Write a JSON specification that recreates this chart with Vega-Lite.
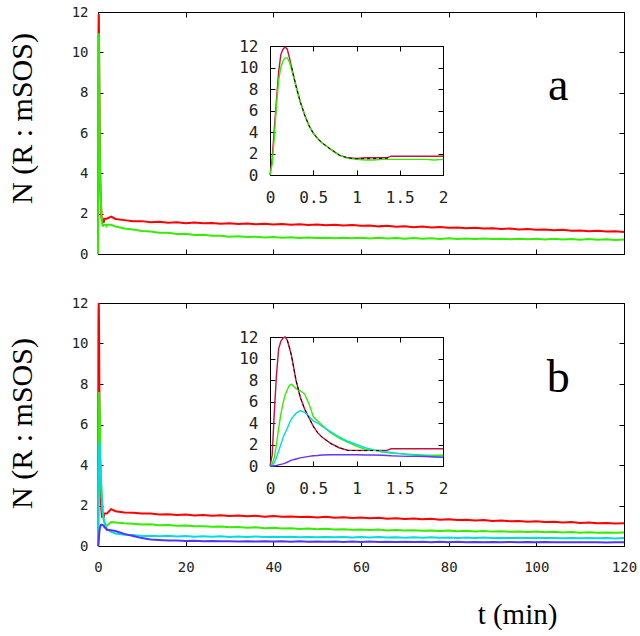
{
"$schema":"https://vega.github.io/schema/vega-lite/v6.json",
"background":"white",
"padding":{"left":6,"top":4,"right":5,"bottom":5},
"config":{"view":{"stroke":"black","strokeWidth":1},"axis":{"labelFont":"DejaVu Sans Mono","labelFontSize":14,"labelColor":"#222","tickColor":"black","domainColor":"black","grid":false,"labelFlush":false,"labelOverlap":false}},
"datasets":{
"A":[
{"t":0,"s":"r","n":0},{"t":0.025,"s":"r","n":1.5},{"t":0.05,"s":"r","n":4.3},{"t":0.075,"s":"r","n":7},{"t":0.1,"s":"r","n":9.6},{"t":0.125,"s":"r","n":11.2},{"t":0.15,"s":"r","n":11.7},{"t":0.175,"s":"r","n":11.9},{"t":0.2,"s":"r","n":11.7},{"t":0.225,"s":"r","n":10.9},{"t":0.25,"s":"r","n":10},{"t":0.3,"s":"r","n":8.3},{"t":0.35,"s":"r","n":6.8},{"t":0.4,"s":"r","n":5.6},{"t":0.45,"s":"r","n":4.6},{"t":0.5,"s":"r","n":3.9},{"t":0.55,"s":"r","n":3.4},{"t":0.6,"s":"r","n":3},{"t":0.7,"s":"r","n":2.4},{"t":0.8,"s":"r","n":1.85},{"t":0.9,"s":"r","n":1.6},{"t":1,"s":"r","n":1.55},{"t":1.1,"s":"r","n":1.6},{"t":1.2,"s":"r","n":1.6},{"t":1.3,"s":"r","n":1.6},{"t":1.35,"s":"r","n":1.6},{"t":1.4,"s":"r","n":1.75},{"t":1.5,"s":"r","n":1.75},{"t":1.6,"s":"r","n":1.75},{"t":1.7,"s":"r","n":1.75},{"t":1.8,"s":"r","n":1.75},{"t":1.9,"s":"r","n":1.75},{"t":2,"s":"r","n":1.75},
{"t":3,"s":"r","n":1.85},{"t":4,"s":"r","n":1.74},{"t":6,"s":"r","n":1.68},{"t":8,"s":"r","n":1.62},{"t":10,"s":"r","n":1.63},{"t":12,"s":"r","n":1.57},{"t":14,"s":"r","n":1.6},{"t":16,"s":"r","n":1.55},{"t":18,"s":"r","n":1.57},{"t":20,"s":"r","n":1.53},{"t":22,"s":"r","n":1.56},{"t":24,"s":"r","n":1.52},{"t":26,"s":"r","n":1.54},{"t":28,"s":"r","n":1.5},{"t":30,"s":"r","n":1.53},{"t":32,"s":"r","n":1.49},{"t":34,"s":"r","n":1.51},{"t":36,"s":"r","n":1.47},{"t":38,"s":"r","n":1.5},{"t":40,"s":"r","n":1.46},{"t":42,"s":"r","n":1.49},{"t":44,"s":"r","n":1.45},{"t":46,"s":"r","n":1.47},{"t":48,"s":"r","n":1.44},{"t":50,"s":"r","n":1.46},{"t":52,"s":"r","n":1.42},{"t":54,"s":"r","n":1.45},{"t":56,"s":"r","n":1.41},{"t":58,"s":"r","n":1.44},{"t":60,"s":"r","n":1.4},{"t":62,"s":"r","n":1.41},{"t":64,"s":"r","n":1.37},{"t":66,"s":"r","n":1.4},{"t":68,"s":"r","n":1.35},{"t":70,"s":"r","n":1.37},{"t":72,"s":"r","n":1.33},{"t":74,"s":"r","n":1.36},{"t":76,"s":"r","n":1.32},{"t":78,"s":"r","n":1.34},{"t":80,"s":"r","n":1.3},{"t":82,"s":"r","n":1.32},{"t":84,"s":"r","n":1.28},{"t":86,"s":"r","n":1.3},{"t":88,"s":"r","n":1.26},{"t":90,"s":"r","n":1.28},{"t":92,"s":"r","n":1.24},{"t":94,"s":"r","n":1.26},{"t":96,"s":"r","n":1.22},{"t":98,"s":"r","n":1.24},{"t":100,"s":"r","n":1.2},{"t":102,"s":"r","n":1.22},{"t":104,"s":"r","n":1.18},{"t":106,"s":"r","n":1.2},{"t":108,"s":"r","n":1.15},{"t":110,"s":"r","n":1.17},{"t":112,"s":"r","n":1.13},{"t":114,"s":"r","n":1.15},{"t":116,"s":"r","n":1.11},{"t":118,"s":"r","n":1.13},{"t":120,"s":"r","n":1.09},
{"t":0,"s":"g","n":0},{"t":0.025,"s":"g","n":1},{"t":0.05,"s":"g","n":3.5},{"t":0.075,"s":"g","n":6.5},{"t":0.1,"s":"g","n":8.8},{"t":0.125,"s":"g","n":10},{"t":0.15,"s":"g","n":10.6},{"t":0.175,"s":"g","n":10.9},{"t":0.2,"s":"g","n":10.9},{"t":0.225,"s":"g","n":10.5},{"t":0.25,"s":"g","n":9.8},{"t":0.3,"s":"g","n":8.3},{"t":0.35,"s":"g","n":6.8},{"t":0.4,"s":"g","n":5.6},{"t":0.45,"s":"g","n":4.6},{"t":0.5,"s":"g","n":3.9},{"t":0.55,"s":"g","n":3.4},{"t":0.6,"s":"g","n":3},{"t":0.7,"s":"g","n":2.4},{"t":0.8,"s":"g","n":1.85},{"t":0.9,"s":"g","n":1.55},{"t":1,"s":"g","n":1.45},{"t":1.1,"s":"g","n":1.4},{"t":1.2,"s":"g","n":1.4},{"t":1.3,"s":"g","n":1.45},{"t":1.35,"s":"g","n":1.45},{"t":1.4,"s":"g","n":1.45},{"t":1.5,"s":"g","n":1.45},{"t":1.6,"s":"g","n":1.45},{"t":1.7,"s":"g","n":1.45},{"t":1.8,"s":"g","n":1.45},{"t":1.9,"s":"g","n":1.4},{"t":2,"s":"g","n":1.45},
{"t":3,"s":"g","n":1.45},{"t":4,"s":"g","n":1.36},{"t":6,"s":"g","n":1.26},{"t":8,"s":"g","n":1.22},{"t":10,"s":"g","n":1.14},{"t":12,"s":"g","n":1.12},{"t":14,"s":"g","n":1.05},{"t":16,"s":"g","n":1.05},{"t":18,"s":"g","n":0.99},{"t":20,"s":"g","n":1},{"t":22,"s":"g","n":0.94},{"t":24,"s":"g","n":0.95},{"t":26,"s":"g","n":0.9},{"t":28,"s":"g","n":0.91},{"t":30,"s":"g","n":0.86},{"t":32,"s":"g","n":0.88},{"t":34,"s":"g","n":0.84},{"t":36,"s":"g","n":0.86},{"t":38,"s":"g","n":0.82},{"t":40,"s":"g","n":0.84},{"t":42,"s":"g","n":0.8},{"t":44,"s":"g","n":0.83},{"t":46,"s":"g","n":0.79},{"t":48,"s":"g","n":0.82},{"t":50,"s":"g","n":0.79},{"t":52,"s":"g","n":0.81},{"t":54,"s":"g","n":0.78},{"t":56,"s":"g","n":0.81},{"t":58,"s":"g","n":0.78},{"t":60,"s":"g","n":0.8},{"t":62,"s":"g","n":0.77},{"t":64,"s":"g","n":0.8},{"t":66,"s":"g","n":0.77},{"t":68,"s":"g","n":0.79},{"t":70,"s":"g","n":0.76},{"t":72,"s":"g","n":0.79},{"t":74,"s":"g","n":0.76},{"t":76,"s":"g","n":0.78},{"t":78,"s":"g","n":0.75},{"t":80,"s":"g","n":0.78},{"t":82,"s":"g","n":0.75},{"t":84,"s":"g","n":0.77},{"t":86,"s":"g","n":0.74},{"t":88,"s":"g","n":0.77},{"t":90,"s":"g","n":0.74},{"t":92,"s":"g","n":0.76},{"t":94,"s":"g","n":0.73},{"t":96,"s":"g","n":0.76},{"t":98,"s":"g","n":0.73},{"t":100,"s":"g","n":0.75},{"t":102,"s":"g","n":0.72},{"t":104,"s":"g","n":0.75},{"t":106,"s":"g","n":0.72},{"t":108,"s":"g","n":0.74},{"t":110,"s":"g","n":0.71},{"t":112,"s":"g","n":0.74},{"t":114,"s":"g","n":0.71},{"t":116,"s":"g","n":0.73},{"t":118,"s":"g","n":0.7},{"t":120,"s":"g","n":0.72},
{"t":0.25,"s":"k","n":10},{"t":0.3,"s":"k","n":8.3},{"t":0.35,"s":"k","n":6.8},{"t":0.4,"s":"k","n":5.6},{"t":0.45,"s":"k","n":4.6},{"t":0.5,"s":"k","n":3.9},{"t":0.55,"s":"k","n":3.4},{"t":0.6,"s":"k","n":3},{"t":0.7,"s":"k","n":2.4},{"t":0.8,"s":"k","n":1.85},{"t":0.9,"s":"k","n":1.58},{"t":1,"s":"k","n":1.52},{"t":1.1,"s":"k","n":1.52},{"t":1.2,"s":"k","n":1.52},{"t":1.3,"s":"k","n":1.55},{"t":1.4,"s":"k","n":1.58}
],
"B":[
{"t":0,"s":"r","n":0},{"t":0.025,"s":"r","n":1},{"t":0.05,"s":"r","n":5},{"t":0.075,"s":"r","n":8.5},{"t":0.1,"s":"r","n":10.9},{"t":0.125,"s":"r","n":11.6},{"t":0.15,"s":"r","n":11.9},{"t":0.175,"s":"r","n":12},{"t":0.2,"s":"r","n":11.7},{"t":0.225,"s":"r","n":11},{"t":0.25,"s":"r","n":10.2},{"t":0.3,"s":"r","n":8},{"t":0.35,"s":"r","n":6.4},{"t":0.4,"s":"r","n":5.3},{"t":0.45,"s":"r","n":4.5},{"t":0.5,"s":"r","n":3.7},{"t":0.55,"s":"r","n":3.1},{"t":0.6,"s":"r","n":2.7},{"t":0.7,"s":"r","n":2.1},{"t":0.8,"s":"r","n":1.7},{"t":0.9,"s":"r","n":1.45},{"t":1,"s":"r","n":1.45},{"t":1.1,"s":"r","n":1.45},{"t":1.2,"s":"r","n":1.45},{"t":1.3,"s":"r","n":1.45},{"t":1.35,"s":"r","n":1.45},{"t":1.4,"s":"r","n":1.6},{"t":1.5,"s":"r","n":1.6},{"t":1.6,"s":"r","n":1.6},{"t":1.7,"s":"r","n":1.6},{"t":1.8,"s":"r","n":1.6},{"t":1.9,"s":"r","n":1.6},{"t":2,"s":"r","n":1.6},
{"t":3,"s":"r","n":1.82},{"t":4,"s":"r","n":1.72},{"t":6,"s":"r","n":1.66},{"t":8,"s":"r","n":1.64},{"t":10,"s":"r","n":1.6},{"t":12,"s":"r","n":1.6},{"t":14,"s":"r","n":1.56},{"t":16,"s":"r","n":1.57},{"t":18,"s":"r","n":1.53},{"t":20,"s":"r","n":1.55},{"t":22,"s":"r","n":1.51},{"t":24,"s":"r","n":1.53},{"t":26,"s":"r","n":1.5},{"t":28,"s":"r","n":1.52},{"t":30,"s":"r","n":1.48},{"t":32,"s":"r","n":1.5},{"t":34,"s":"r","n":1.47},{"t":36,"s":"r","n":1.49},{"t":38,"s":"r","n":1.45},{"t":40,"s":"r","n":1.48},{"t":42,"s":"r","n":1.44},{"t":44,"s":"r","n":1.46},{"t":46,"s":"r","n":1.43},{"t":48,"s":"r","n":1.45},{"t":50,"s":"r","n":1.41},{"t":52,"s":"r","n":1.44},{"t":54,"s":"r","n":1.4},{"t":56,"s":"r","n":1.42},{"t":58,"s":"r","n":1.38},{"t":60,"s":"r","n":1.41},{"t":62,"s":"r","n":1.37},{"t":64,"s":"r","n":1.39},{"t":66,"s":"r","n":1.35},{"t":68,"s":"r","n":1.37},{"t":70,"s":"r","n":1.33},{"t":72,"s":"r","n":1.36},{"t":74,"s":"r","n":1.32},{"t":76,"s":"r","n":1.34},{"t":78,"s":"r","n":1.3},{"t":80,"s":"r","n":1.32},{"t":82,"s":"r","n":1.28},{"t":84,"s":"r","n":1.3},{"t":86,"s":"r","n":1.26},{"t":88,"s":"r","n":1.28},{"t":90,"s":"r","n":1.24},{"t":92,"s":"r","n":1.26},{"t":94,"s":"r","n":1.22},{"t":96,"s":"r","n":1.24},{"t":98,"s":"r","n":1.2},{"t":100,"s":"r","n":1.22},{"t":102,"s":"r","n":1.18},{"t":104,"s":"r","n":1.2},{"t":106,"s":"r","n":1.16},{"t":108,"s":"r","n":1.18},{"t":110,"s":"r","n":1.14},{"t":112,"s":"r","n":1.16},{"t":114,"s":"r","n":1.12},{"t":116,"s":"r","n":1.14},{"t":118,"s":"r","n":1.11},{"t":120,"s":"r","n":1.12},
{"t":0,"s":"g","n":0},{"t":0.025,"s":"g","n":0.2},{"t":0.05,"s":"g","n":0.8},{"t":0.075,"s":"g","n":2},{"t":0.1,"s":"g","n":3.5},{"t":0.125,"s":"g","n":4.8},{"t":0.15,"s":"g","n":5.8},{"t":0.175,"s":"g","n":6.6},{"t":0.2,"s":"g","n":7.1},{"t":0.225,"s":"g","n":7.5},{"t":0.25,"s":"g","n":7.6},{"t":0.3,"s":"g","n":7.2},{"t":0.35,"s":"g","n":7},{"t":0.4,"s":"g","n":6.7},{"t":0.45,"s":"g","n":5.8},{"t":0.5,"s":"g","n":4.6},{"t":0.55,"s":"g","n":4.2},{"t":0.6,"s":"g","n":3.8},{"t":0.7,"s":"g","n":3.1},{"t":0.8,"s":"g","n":2.6},{"t":0.9,"s":"g","n":2.2},{"t":1,"s":"g","n":1.85},{"t":1.1,"s":"g","n":1.55},{"t":1.2,"s":"g","n":1.45},{"t":1.3,"s":"g","n":1.3},{"t":1.35,"s":"g","n":1.25},{"t":1.4,"s":"g","n":1.2},{"t":1.5,"s":"g","n":1.15},{"t":1.6,"s":"g","n":1.1},{"t":1.7,"s":"g","n":1.05},{"t":1.8,"s":"g","n":1},{"t":1.9,"s":"g","n":1},{"t":2,"s":"g","n":1},
{"t":3,"s":"g","n":1.18},{"t":4,"s":"g","n":1.16},{"t":6,"s":"g","n":1.12},{"t":8,"s":"g","n":1.1},{"t":10,"s":"g","n":1.06},{"t":12,"s":"g","n":1.07},{"t":14,"s":"g","n":1.03},{"t":16,"s":"g","n":1.04},{"t":18,"s":"g","n":1},{"t":20,"s":"g","n":1.01},{"t":22,"s":"g","n":0.97},{"t":24,"s":"g","n":0.98},{"t":26,"s":"g","n":0.95},{"t":28,"s":"g","n":0.96},{"t":30,"s":"g","n":0.92},{"t":32,"s":"g","n":0.94},{"t":34,"s":"g","n":0.9},{"t":36,"s":"g","n":0.92},{"t":38,"s":"g","n":0.88},{"t":40,"s":"g","n":0.9},{"t":42,"s":"g","n":0.86},{"t":44,"s":"g","n":0.88},{"t":46,"s":"g","n":0.84},{"t":48,"s":"g","n":0.86},{"t":50,"s":"g","n":0.83},{"t":52,"s":"g","n":0.85},{"t":54,"s":"g","n":0.81},{"t":56,"s":"g","n":0.83},{"t":58,"s":"g","n":0.8},{"t":60,"s":"g","n":0.82},{"t":62,"s":"g","n":0.79},{"t":64,"s":"g","n":0.81},{"t":66,"s":"g","n":0.77},{"t":68,"s":"g","n":0.79},{"t":70,"s":"g","n":0.76},{"t":72,"s":"g","n":0.78},{"t":74,"s":"g","n":0.75},{"t":76,"s":"g","n":0.77},{"t":78,"s":"g","n":0.74},{"t":80,"s":"g","n":0.76},{"t":82,"s":"g","n":0.73},{"t":84,"s":"g","n":0.75},{"t":86,"s":"g","n":0.72},{"t":88,"s":"g","n":0.74},{"t":90,"s":"g","n":0.71},{"t":92,"s":"g","n":0.73},{"t":94,"s":"g","n":0.7},{"t":96,"s":"g","n":0.72},{"t":98,"s":"g","n":0.69},{"t":100,"s":"g","n":0.71},{"t":102,"s":"g","n":0.68},{"t":104,"s":"g","n":0.7},{"t":106,"s":"g","n":0.67},{"t":108,"s":"g","n":0.69},{"t":110,"s":"g","n":0.66},{"t":112,"s":"g","n":0.68},{"t":114,"s":"g","n":0.66},{"t":116,"s":"g","n":0.67},{"t":118,"s":"g","n":0.65},{"t":120,"s":"g","n":0.67},
{"t":0,"s":"c","n":0},{"t":0.025,"s":"c","n":0},{"t":0.05,"s":"c","n":0.3},{"t":0.075,"s":"c","n":0.8},{"t":0.1,"s":"c","n":1.4},{"t":0.125,"s":"c","n":2},{"t":0.15,"s":"c","n":2.6},{"t":0.175,"s":"c","n":3.1},{"t":0.2,"s":"c","n":3.5},{"t":0.225,"s":"c","n":4},{"t":0.25,"s":"c","n":4.4},{"t":0.3,"s":"c","n":4.9},{"t":0.35,"s":"c","n":5.15},{"t":0.4,"s":"c","n":5},{"t":0.45,"s":"c","n":4.6},{"t":0.5,"s":"c","n":4.2},{"t":0.55,"s":"c","n":4},{"t":0.6,"s":"c","n":3.7},{"t":0.7,"s":"c","n":3.2},{"t":0.8,"s":"c","n":2.7},{"t":0.9,"s":"c","n":2.3},{"t":1,"s":"c","n":2},{"t":1.1,"s":"c","n":1.7},{"t":1.2,"s":"c","n":1.5},{"t":1.3,"s":"c","n":1.35},{"t":1.35,"s":"c","n":1.3},{"t":1.4,"s":"c","n":1.25},{"t":1.5,"s":"c","n":1.15},{"t":1.6,"s":"c","n":1.05},{"t":1.7,"s":"c","n":1},{"t":1.8,"s":"c","n":0.95},{"t":1.9,"s":"c","n":0.9},{"t":2,"s":"c","n":0.85},
{"t":3,"s":"c","n":0.7},{"t":4,"s":"c","n":0.62},{"t":6,"s":"c","n":0.56},{"t":8,"s":"c","n":0.54},{"t":10,"s":"c","n":0.5},{"t":12,"s":"c","n":0.51},{"t":14,"s":"c","n":0.48},{"t":16,"s":"c","n":0.5},{"t":18,"s":"c","n":0.47},{"t":20,"s":"c","n":0.49},{"t":22,"s":"c","n":0.46},{"t":24,"s":"c","n":0.48},{"t":26,"s":"c","n":0.46},{"t":28,"s":"c","n":0.48},{"t":30,"s":"c","n":0.45},{"t":32,"s":"c","n":0.47},{"t":34,"s":"c","n":0.45},{"t":36,"s":"c","n":0.47},{"t":38,"s":"c","n":0.44},{"t":40,"s":"c","n":0.46},{"t":42,"s":"c","n":0.44},{"t":44,"s":"c","n":0.46},{"t":46,"s":"c","n":0.43},{"t":48,"s":"c","n":0.45},{"t":50,"s":"c","n":0.43},{"t":52,"s":"c","n":0.45},{"t":54,"s":"c","n":0.43},{"t":56,"s":"c","n":0.44},{"t":58,"s":"c","n":0.42},{"t":60,"s":"c","n":0.44},{"t":62,"s":"c","n":0.42},{"t":64,"s":"c","n":0.44},{"t":66,"s":"c","n":0.42},{"t":68,"s":"c","n":0.43},{"t":70,"s":"c","n":0.41},{"t":72,"s":"c","n":0.43},{"t":74,"s":"c","n":0.41},{"t":76,"s":"c","n":0.43},{"t":78,"s":"c","n":0.41},{"t":80,"s":"c","n":0.42},{"t":82,"s":"c","n":0.4},{"t":84,"s":"c","n":0.42},{"t":86,"s":"c","n":0.4},{"t":88,"s":"c","n":0.42},{"t":90,"s":"c","n":0.4},{"t":92,"s":"c","n":0.41},{"t":94,"s":"c","n":0.39},{"t":96,"s":"c","n":0.41},{"t":98,"s":"c","n":0.39},{"t":100,"s":"c","n":0.41},{"t":102,"s":"c","n":0.39},{"t":104,"s":"c","n":0.4},{"t":106,"s":"c","n":0.38},{"t":108,"s":"c","n":0.4},{"t":110,"s":"c","n":0.38},{"t":112,"s":"c","n":0.4},{"t":114,"s":"c","n":0.38},{"t":116,"s":"c","n":0.39},{"t":118,"s":"c","n":0.37},{"t":120,"s":"c","n":0.39},
{"t":0,"s":"b","n":0},{"t":0.025,"s":"b","n":0},{"t":0.05,"s":"b","n":0.02},{"t":0.075,"s":"b","n":0.05},{"t":0.1,"s":"b","n":0.1},{"t":0.125,"s":"b","n":0.15},{"t":0.15,"s":"b","n":0.2},{"t":0.175,"s":"b","n":0.27},{"t":0.2,"s":"b","n":0.35},{"t":0.225,"s":"b","n":0.45},{"t":0.25,"s":"b","n":0.55},{"t":0.3,"s":"b","n":0.65},{"t":0.35,"s":"b","n":0.75},{"t":0.4,"s":"b","n":0.83},{"t":0.45,"s":"b","n":0.9},{"t":0.5,"s":"b","n":0.95},{"t":0.55,"s":"b","n":0.98},{"t":0.6,"s":"b","n":1.02},{"t":0.7,"s":"b","n":1.05},{"t":0.8,"s":"b","n":1.05},{"t":0.9,"s":"b","n":1.04},{"t":1,"s":"b","n":1.04},{"t":1.1,"s":"b","n":1.03},{"t":1.2,"s":"b","n":1.02},{"t":1.3,"s":"b","n":1},{"t":1.35,"s":"b","n":0.98},{"t":1.4,"s":"b","n":0.95},{"t":1.5,"s":"b","n":0.92},{"t":1.6,"s":"b","n":0.9},{"t":1.7,"s":"b","n":0.9},{"t":1.8,"s":"b","n":0.88},{"t":1.9,"s":"b","n":0.84},{"t":2,"s":"b","n":0.8},
{"t":3,"s":"b","n":0.78},{"t":4,"s":"b","n":0.74},{"t":6,"s":"b","n":0.6},{"t":8,"s":"b","n":0.49},{"t":10,"s":"b","n":0.39},{"t":12,"s":"b","n":0.32},{"t":14,"s":"b","n":0.3},{"t":16,"s":"b","n":0.27},{"t":18,"s":"b","n":0.27},{"t":20,"s":"b","n":0.25},{"t":22,"s":"b","n":0.26},{"t":24,"s":"b","n":0.24},{"t":26,"s":"b","n":0.25},{"t":28,"s":"b","n":0.23},{"t":30,"s":"b","n":0.24},{"t":32,"s":"b","n":0.22},{"t":34,"s":"b","n":0.24},{"t":36,"s":"b","n":0.22},{"t":38,"s":"b","n":0.23},{"t":40,"s":"b","n":0.22},{"t":42,"s":"b","n":0.23},{"t":44,"s":"b","n":0.21},{"t":46,"s":"b","n":0.23},{"t":48,"s":"b","n":0.21},{"t":50,"s":"b","n":0.22},{"t":52,"s":"b","n":0.21},{"t":54,"s":"b","n":0.22},{"t":56,"s":"b","n":0.2},{"t":58,"s":"b","n":0.22},{"t":60,"s":"b","n":0.2},{"t":62,"s":"b","n":0.22},{"t":64,"s":"b","n":0.2},{"t":66,"s":"b","n":0.21},{"t":68,"s":"b","n":0.2},{"t":70,"s":"b","n":0.21},{"t":72,"s":"b","n":0.2},{"t":74,"s":"b","n":0.21},{"t":76,"s":"b","n":0.19},{"t":78,"s":"b","n":0.21},{"t":80,"s":"b","n":0.19},{"t":82,"s":"b","n":0.21},{"t":84,"s":"b","n":0.19},{"t":86,"s":"b","n":0.2},{"t":88,"s":"b","n":0.19},{"t":90,"s":"b","n":0.2},{"t":92,"s":"b","n":0.19},{"t":94,"s":"b","n":0.2},{"t":96,"s":"b","n":0.18},{"t":98,"s":"b","n":0.2},{"t":100,"s":"b","n":0.18},{"t":102,"s":"b","n":0.2},{"t":104,"s":"b","n":0.18},{"t":106,"s":"b","n":0.19},{"t":108,"s":"b","n":0.18},{"t":110,"s":"b","n":0.19},{"t":112,"s":"b","n":0.18},{"t":114,"s":"b","n":0.19},{"t":116,"s":"b","n":0.17},{"t":118,"s":"b","n":0.19},{"t":120,"s":"b","n":0.18},
{"t":0.2,"s":"k","n":11.7},{"t":0.225,"s":"k","n":11},{"t":0.25,"s":"k","n":10.2},{"t":0.3,"s":"k","n":8},{"t":0.35,"s":"k","n":6.4},{"t":0.4,"s":"k","n":5.3},{"t":0.45,"s":"k","n":4.5},{"t":0.5,"s":"k","n":3.7},{"t":0.55,"s":"k","n":3.1},{"t":0.6,"s":"k","n":2.7},{"t":0.7,"s":"k","n":2.1},{"t":0.8,"s":"k","n":1.7},{"t":0.9,"s":"k","n":1.45},{"t":1,"s":"k","n":1.43},{"t":1.1,"s":"k","n":1.43},{"t":1.2,"s":"k","n":1.43},{"t":1.3,"s":"k","n":1.45}
]
},
"vconcat":[
{
"width":526,"height":242,
"layer":[
 {"data":{"name":"A"},
  "layer":[
   {"mark":{"type":"line","strokeWidth":2},
    "transform":[{"filter":"datum.s != 'k'"}],
    "encoding":{
     "x":{"field":"t","type":"quantitative","scale":{"domain":[0,120]},"axis":{"orient":"bottom","values":[0,20,40,60,80,100,120],"tickSize":-5,"labels":false,"domain":false,"title":null}},
     "y":{"field":"n","type":"quantitative","scale":{"domain":[0,12]},"axis":{"orient":"left","values":[0,2,4,6,8,10,12],"tickSize":-5,"labelPadding":15,"domain":false,"title":"N (R : mSOS)","titleFont":"Liberation Serif","titleFontSize":30,"titleFontWeight":"normal","titleColor":"black","titleAngle":270,"titleX":-67,"titleY":106,"titleAlign":"center","titleBaseline":"alphabetic"}},
     "color":{"field":"s","type":"nominal","scale":{"domain":["r","g","c","b"],"range":["#ff0000","#33ee00","#00dddd","#5533ff"]},"legend":null}
    }},
   {"mark":{"type":"point","opacity":0},
    "encoding":{
     "x":{"field":"t","type":"quantitative","axis":{"orient":"top","values":[0,20,40,60,80,100,120],"tickSize":-5,"labels":false,"domain":false,"title":null}},
     "y":{"field":"n","type":"quantitative","axis":{"orient":"right","values":[0,2,4,6,8,10,12],"tickSize":-5,"labels":false,"domain":false,"title":null}}
    }},
   {"data":{"values":[{"t":105,"n":7.65,"label":"a"}]},
    "mark":{"type":"text","font":"Liberation Serif","fontSize":46,"align":"center","baseline":"alphabetic","color":"black"},
    "encoding":{"x":{"field":"t","type":"quantitative","axis":null},"y":{"field":"n","type":"quantitative","axis":null},"text":{"field":"label"}}}
  ],
  "resolve":{"axis":{"x":"independent","y":"independent"}}
 },
 {"data":{"name":"A"},
  "transform":[{"filter":"datum.t <= 2"}],
  "layer":[
   {"mark":{"type":"line","strokeWidth":1.4},
    "transform":[{"filter":"datum.s != 'k'"}],
    "encoding":{
     "x":{"field":"t","type":"quantitative","scale":{"domain":[0,2],"range":[172,345]},"axis":{"orient":"bottom","offset":-79,"values":[0,0.5,1,1.5,2],"format":"~g","tickSize":-5,"labelPadding":19,"labelFontSize":16,"domain":true,"title":null}},
     "y":{"field":"n","type":"quantitative","scale":{"domain":[0,12],"range":[163,34]},"axis":{"orient":"left","offset":-172,"values":[0,2,4,6,8,10,12],"tickSize":-5,"labelPadding":17,"labelFontSize":16,"domain":true,"title":null}},
     "color":{"field":"s","type":"nominal","scale":{"domain":["r","g","c","b"],"range":["#c8103c","#33ee00","#00dddd","#6633ff"]},"legend":null}
    }},
   {"mark":{"type":"line","strokeWidth":1,"strokeDash":[3,3],"color":"black"},
    "transform":[{"filter":"datum.s == 'k'"}],
    "encoding":{
     "x":{"field":"t","type":"quantitative","axis":{"orient":"top","offset":-34,"values":[0,0.5,1,1.5,2],"tickSize":-5,"labels":false,"domain":true,"title":null}},
     "y":{"field":"n","type":"quantitative","axis":{"orient":"right","offset":-181,"values":[0,2,4,6,8,10,12],"tickSize":-5,"labels":false,"domain":true,"title":null}}
    }}
  ],
  "resolve":{"axis":{"x":"independent","y":"independent"}}
 }
],
"resolve":{"scale":{"x":"independent","y":"independent","color":"independent"}}
},
{
"width":526,"height":243,
"layer":[
 {"data":{"name":"B"},
  "layer":[
   {"mark":{"type":"line","strokeWidth":2},
    "transform":[{"filter":"datum.s != 'k'"}],
    "encoding":{
     "x":{"field":"t","type":"quantitative","scale":{"domain":[0,120]},"axis":{"orient":"bottom","values":[0,20,40,60,80,100,120],"tickSize":-5,"labelPadding":19,"domain":false,"title":"t (min)","titleFont":"Liberation Serif","titleFontSize":29,"titleFontWeight":"normal","titleColor":"black","titleX":419,"titleY":77,"titleAlign":"center","titleBaseline":"alphabetic"}},
     "y":{"field":"n","type":"quantitative","scale":{"domain":[0,12]},"axis":{"orient":"left","values":[0,2,4,6,8,10,12],"tickSize":-5,"labelPadding":15,"domain":false,"title":"N (R : mSOS)","titleFont":"Liberation Serif","titleFontSize":30,"titleFontWeight":"normal","titleColor":"black","titleAngle":270,"titleX":-67,"titleY":120,"titleAlign":"center","titleBaseline":"alphabetic"}},
     "color":{"field":"s","type":"nominal","scale":{"domain":["r","g","c","b"],"range":["#ff0000","#33ee00","#00dddd","#5533ff"]},"legend":null}
    }},
   {"mark":{"type":"point","opacity":0},
    "encoding":{
     "x":{"field":"t","type":"quantitative","axis":{"orient":"top","values":[0,20,40,60,80,100,120],"tickSize":-5,"labels":false,"domain":false,"title":null}},
     "y":{"field":"n","type":"quantitative","axis":{"orient":"right","values":[0,2,4,6,8,10,12],"tickSize":-5,"labels":false,"domain":false,"title":null}}
    }},
   {"data":{"values":[{"t":105,"n":7.6,"label":"b"}]},
    "mark":{"type":"text","font":"Liberation Serif","fontSize":46,"align":"center","baseline":"alphabetic","color":"black"},
    "encoding":{"x":{"field":"t","type":"quantitative","axis":null},"y":{"field":"n","type":"quantitative","axis":null},"text":{"field":"label"}}}
  ],
  "resolve":{"axis":{"x":"independent","y":"independent"}}
 },
 {"data":{"name":"B"},
  "transform":[{"filter":"datum.t <= 2"}],
  "layer":[
   {"mark":{"type":"line","strokeWidth":1.4},
    "transform":[{"filter":"datum.s != 'k'"}],
    "encoding":{
     "x":{"field":"t","type":"quantitative","scale":{"domain":[0,2],"range":[172,345]},"axis":{"orient":"bottom","offset":-80,"values":[0,0.5,1,1.5,2],"format":"~g","tickSize":-5,"labelPadding":19,"labelFontSize":16,"domain":true,"title":null}},
     "y":{"field":"n","type":"quantitative","scale":{"domain":[0,12],"range":[163,34]},"axis":{"orient":"left","offset":-172,"values":[0,2,4,6,8,10,12],"tickSize":-5,"labelPadding":17,"labelFontSize":16,"domain":true,"title":null}},
     "color":{"field":"s","type":"nominal","scale":{"domain":["r","g","c","b"],"range":["#c8103c","#33ee00","#00dddd","#6633ff"]},"legend":null}
    }},
   {"mark":{"type":"line","strokeWidth":1,"strokeDash":[3,3],"color":"black"},
    "transform":[{"filter":"datum.s == 'k'"}],
    "encoding":{
     "x":{"field":"t","type":"quantitative","axis":{"orient":"top","offset":-34,"values":[0,0.5,1,1.5,2],"tickSize":-5,"labels":false,"domain":true,"title":null}},
     "y":{"field":"n","type":"quantitative","axis":{"orient":"right","offset":-181,"values":[0,2,4,6,8,10,12],"tickSize":-5,"labels":false,"domain":true,"title":null}}
    }}
  ],
  "resolve":{"axis":{"x":"independent","y":"independent"}}
 }
],
"resolve":{"scale":{"x":"independent","y":"independent","color":"independent"}}
}
],
"spacing":49,
"bounds":"flush"
}
